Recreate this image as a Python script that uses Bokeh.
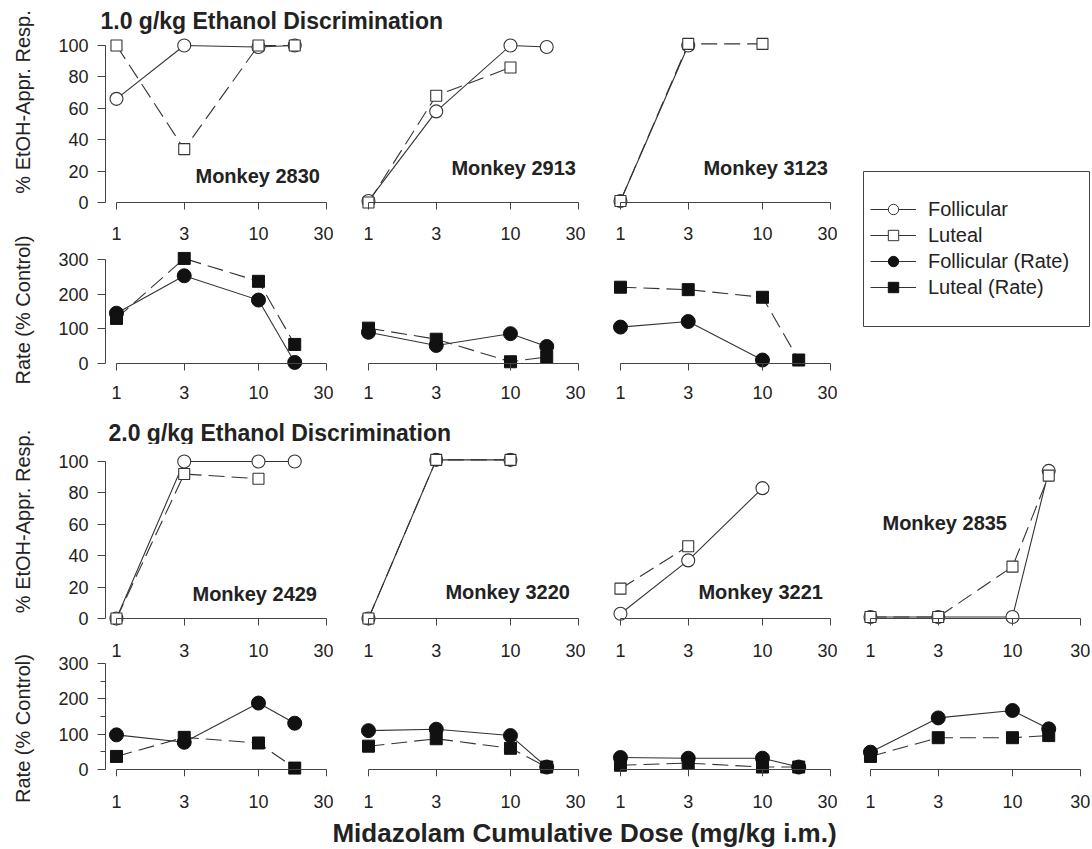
import math
from bokeh.plotting import figure
from bokeh.models import (Range1d, FixedTicker, NumeralTickFormatter, Label, Legend,
                          LegendItem, LinearAxis, LogAxis)
from bokeh.layouts import row, column
from bokeh.embed import file_html
from bokeh.resources import INLINE

FONT = "Liberation Sans"
INK = "#222222"
LINE = "#333333"
NAN = float("nan")

# ---------------- data ----------------
doses = [1, 3, 10, 18]
dose_ticks = [1, 3, 10, 30]
pct_ticks = [0, 20, 40, 60, 80, 100]
rate_ticks = [0, 100, 200, 300]
rate_minor = [50, 150, 250]

# 1.0 g/kg Ethanol Discrimination
foll_pct_2830 = [66, 100, 99, 100]
lut_pct_2830 = [100, 34, 100, 100]
foll_rate_2830 = [145, 253, 183, 3]
lut_rate_2830 = [130, 303, 237, 55]

foll_pct_2913 = [1, 58, 100, 99]
lut_pct_2913 = [0, 68, 86]
foll_rate_2913 = [90, 52, 86, 49]
lut_rate_2913 = [102, 70, 5, 19]

foll_pct_3123 = [1, 100]
lut_pct_3123 = [1, 101, 101]
foll_rate_3123 = [105, 121, 10]
lut_rate_3123 = [220, 213, 191, 10]

# 2.0 g/kg Ethanol Discrimination
foll_pct_2429 = [0, 100, 100, 100]
lut_pct_2429 = [0, 92, 89]
foll_rate_2429 = [98, 77, 188, 131]
lut_rate_2429 = [37, 91, 75, 4]

foll_pct_3220 = [0, 101, 101]
lut_pct_3220 = [0, 101, 101]
foll_rate_3220 = [110, 114, 96, 7]
lut_rate_3220 = [66, 87, 60, 7]

foll_pct_3221 = [3, 37, 83]
lut_pct_3221 = [19, 46]
foll_rate_3221 = [34, 32, 32, 7]
lut_rate_3221 = [12, 18, 7, 7]

foll_pct_2835 = [1, 1, 1, 94]
lut_pct_2835 = [1, 1, 33, 91]
foll_rate_2835 = [49, 146, 167, 115]
lut_rate_2835 = [37, 90, 90, 96]

group1 = [("Monkey 2830", foll_pct_2830, lut_pct_2830, foll_rate_2830, lut_rate_2830),
          ("Monkey 2913", foll_pct_2913, lut_pct_2913, foll_rate_2913, lut_rate_2913),
          ("Monkey 3123", foll_pct_3123, lut_pct_3123, foll_rate_3123, lut_rate_3123)]
group2 = [("Monkey 2429", foll_pct_2429, lut_pct_2429, foll_rate_2429, lut_rate_2429),
          ("Monkey 3220", foll_pct_3220, lut_pct_3220, foll_rate_3220, lut_rate_3220),
          ("Monkey 3221", foll_pct_3221, lut_pct_3221, foll_rate_3221, lut_rate_3221),
          ("Monkey 2835", foll_pct_2835, lut_pct_2835, foll_rate_2835, lut_rate_2835)]

# anchor positions (data coords) for the monkey names
label_pos1 = [(3.6, 17), (3.84, 22), (3.84, 22)]
label_pos2 = [(3.43, 15.3), (3.48, 16.6), (3.54, 16.6), (1.215, 60.5)]

# ---------------- layout constants (pixels) ----------------
PX_DEC = 142.0            # pixels per decade of dose
X0 = 0.837                # dose at frame left
LEFT_FIRST, LEFT_OTHER = 65, 24


def style_axis(ax, labels=True, line=True):
    ax.axis_line_color = "#444444" if line else None
    ax.major_tick_line_color = "#444444" if line else None
    ax.minor_tick_line_color = None
    ax.major_tick_in = 0
    ax.major_tick_out = 7 if line else 0
    ax.major_label_text_font = FONT
    ax.major_label_text_font_size = "18px"
    ax.major_label_text_color = INK
    if not labels:
        ax.major_label_overrides = {t: "" for t in dose_ticks}


def make_fig(first, left, frame_w, right, top, fh, bottom, yr, kind,
             above_standoff=None, below_standoff=None, minor=False):
    x1 = X0 * 10 ** (frame_w / PX_DEC)
    p = figure(width=left + frame_w + right, height=top + fh + bottom,
               x_axis_type="log", x_range=Range1d(X0, x1),
               y_range=Range1d(*yr), output_backend="svg", toolbar_location=None,
               x_axis_location=None, y_axis_location=None,
               min_border_left=left, min_border_right=right,
               min_border_top=top, min_border_bottom=bottom,
               outline_line_color=None, background_fill_color="white",
               border_fill_color="white")
    p.grid.visible = False
    # axis line + ticks sitting at y = 0
    xa = LogAxis(fixed_location=0, bounds=(1, 30), ticker=FixedTicker(ticks=dose_ticks),
                 formatter=NumeralTickFormatter(format="0"))
    style_axis(xa, labels=False)
    p.add_layout(xa, "below")
    # tick-label rows (labels only)
    if above_standoff is not None:
        aa = LogAxis(ticker=FixedTicker(ticks=dose_ticks), formatter=NumeralTickFormatter(format="0"))
        style_axis(aa, line=False)
        aa.major_label_standoff = above_standoff
        p.add_layout(aa, "above")
    if below_standoff is not None:
        ba = LogAxis(ticker=FixedTicker(ticks=dose_ticks), formatter=NumeralTickFormatter(format="0"))
        style_axis(ba, line=False)
        ba.major_label_standoff = below_standoff
        p.add_layout(ba, "below")
    if first:
        if kind == "pct":
            ya = LinearAxis(bounds=(0, 100), ticker=FixedTicker(ticks=pct_ticks))
        else:
            ya = LinearAxis(bounds=(0, 300),
                            ticker=FixedTicker(ticks=rate_ticks,
                                               minor_ticks=rate_minor if minor else []))
        style_axis(ya)
        ya.major_tick_out = 8
        ya.major_label_standoff = 9
        if minor:
            ya.minor_tick_line_color = "#444444"
            ya.minor_tick_out = 5
            ya.minor_tick_in = 0
        p.add_layout(ya, "left")
    return p


def draw_pct(p, fp, lp, name, pos):
    p.line(doses[:len(fp)], fp, line_color=LINE, line_width=1.1)
    p.line(doses[:len(lp)], lp, line_color=LINE, line_width=1.1, line_dash="16 7")
    p.scatter(doses[:len(fp)], fp, marker="circle", size=13, fill_color="white",
              line_color=LINE, line_width=1.1)
    p.scatter(doses[:len(lp)], lp, marker="square", size=11, fill_color="white",
              line_color=LINE, line_width=1.1)
    p.add_layout(Label(x=pos[0], y=pos[1], text=name, text_font=FONT,
                       text_font_size="20px", text_font_style="bold",
                       text_color=INK, text_align="left", text_baseline="middle"))


def draw_rate(p, fr, lr):
    p.line(doses[:len(fr)], fr, line_color=LINE, line_width=1.1)
    p.line(doses[:len(lr)], lr, line_color=LINE, line_width=1.1, line_dash="16 7")
    p.scatter(doses[:len(fr)], fr, marker="circle", size=14, fill_color="#111111",
              line_color="#111111")
    p.scatter(doses[:len(lr)], lr, marker="square", size=12, fill_color="#111111",
              line_color="#111111")


def blank(w, h):
    s = figure(width=w, height=h, x_range=Range1d(0, w), y_range=Range1d(0, h),
               output_backend="svg", toolbar_location=None,
               x_axis_location=None, y_axis_location=None,
               min_border_left=0, min_border_right=0, min_border_top=0, min_border_bottom=0,
               outline_line_color=None)
    s.grid.visible = False
    return s


def add_text(s, text, x, y, size, align="left", bold=True, angle=0.0):
    s.add_layout(Label(x=x, y=y, text=text, text_font=FONT, text_font_size=size,
                       text_font_style="bold" if bold else "normal", text_color=INK,
                       text_align=align, text_baseline="middle", angle=angle))


# ---------------- 1.0 g/kg block ----------------
row1, row2 = [], []
for i, (name, fp, lp, fr, lr) in enumerate(group1):
    left = LEFT_FIRST if i == 0 else LEFT_OTHER
    a = make_fig(i == 0, left, 228, 0, 0, 175, 3, (-5.73, 105.7), "pct")
    draw_pct(a, fp, lp, name, label_pos1[i])
    row1.append(a)
    b = make_fig(i == 0, left, 228, 0, 35, 123, 35, (-26, 328.8), "rate",
                 above_standoff=10, below_standoff=13)
    draw_rate(b, fr, lr)
    row2.append(b)

# legend panel (frame = legend box)
lg = figure(width=253, height=371, x_range=Range1d(0, 1), y_range=Range1d(0, 1),
            output_backend="svg", toolbar_location=None,
            x_axis_location=None, y_axis_location=None,
            min_border_left=26, min_border_right=1, min_border_top=135, min_border_bottom=81,
            outline_line_color="#444444", outline_line_width=1)
lg.grid.visible = False
r1l = lg.line([NAN], [NAN], line_color=LINE, line_width=1.1)
r1m = lg.scatter([NAN], [NAN], marker="circle", size=13, fill_color="white", line_color=LINE)
r2l = lg.line([NAN], [NAN], line_color=LINE, line_width=1.1)
r2m = lg.scatter([NAN], [NAN], marker="square", size=11, fill_color="white", line_color=LINE)
r3l = lg.line([NAN], [NAN], line_color=LINE, line_width=1.1)
r3m = lg.scatter([NAN], [NAN], marker="circle", size=14, fill_color="#111111", line_color="#111111")
r4l = lg.line([NAN], [NAN], line_color=LINE, line_width=1.1)
r4m = lg.scatter([NAN], [NAN], marker="square", size=12, fill_color="#111111", line_color="#111111")
legend = Legend(items=[LegendItem(label="Follicular", renderers=[r1l, r1m]),
                       LegendItem(label="Luteal", renderers=[r2l, r2m]),
                       LegendItem(label="Follicular (Rate)", renderers=[r3l, r3m]),
                       LegendItem(label="Luteal (Rate)", renderers=[r4l, r4m])],
                location=(7, 26), margin=0, padding=0, spacing=0,
                glyph_width=46, glyph_height=26, label_height=26, label_standoff=12,
                label_text_font=FONT, label_text_font_size="20px", label_text_color=INK,
                border_line_color=None, background_fill_alpha=0)
lg.add_layout(legend)

strip1 = blank(40, 407)
add_text(strip1, "% EtOH-Appr. Resp.", 22, 407 - 101.5, "20px", "center", False, math.pi / 2)
add_text(strip1, "Rate (% Control)", 22, 407 - 309.5, "20px", "center", False, math.pi / 2)

t1 = blank(1050, 36)
add_text(t1, "1.0 g/kg Ethanol Discrimination", 60, 16, "23px")

block1 = row(strip1, column(t1, row(column(row(*row1), row(*row2)), lg)))

# ---------------- 2.0 g/kg block ----------------
row3, row4 = [], []
for i, (name, fp, lp, fr, lr) in enumerate(group2):
    left = LEFT_FIRST if i == 0 else (22 if i == 3 else LEFT_OTHER)
    fw = 226 if i == 3 else 228
    right = 5 if i == 3 else 0
    a = make_fig(i == 0, left, fw, right, 8, 175, 4, (-5.73, 105.7), "pct")
    draw_pct(a, fp, lp, name, label_pos2[i])
    row3.append(a)
    b = make_fig(i == 0, left, fw, right, 31, 114, 38, (-19.8, 302.8), "rate",
                 above_standoff=6, below_standoff=18, minor=True)
    draw_rate(b, fr, lr)
    row4.append(b)

strip2 = blank(40, 407)
add_text(strip2, "% EtOH-Appr. Resp.", 22, 407 - (521 - 407), "20px", "center", False, math.pi / 2)
add_text(strip2, "Rate (% Control)", 22, 407 - (728 - 407), "20px", "center", False, math.pi / 2)

t2 = blank(1050, 37)
add_text(t2, "2.0 g/kg Ethanol Discrimination", 68, 12, "23px")

block2 = row(strip2, column(t2, row(*row3), row(*row4)))

t3 = blank(1090, 33)
add_text(t3, "Midazolam Cumulative Dose (mg/kg i.m.)", 584, 15, "26px", "center")

layout = column(block1, block2, t3)

open("out.html", "w").write(file_html(layout, INLINE))
